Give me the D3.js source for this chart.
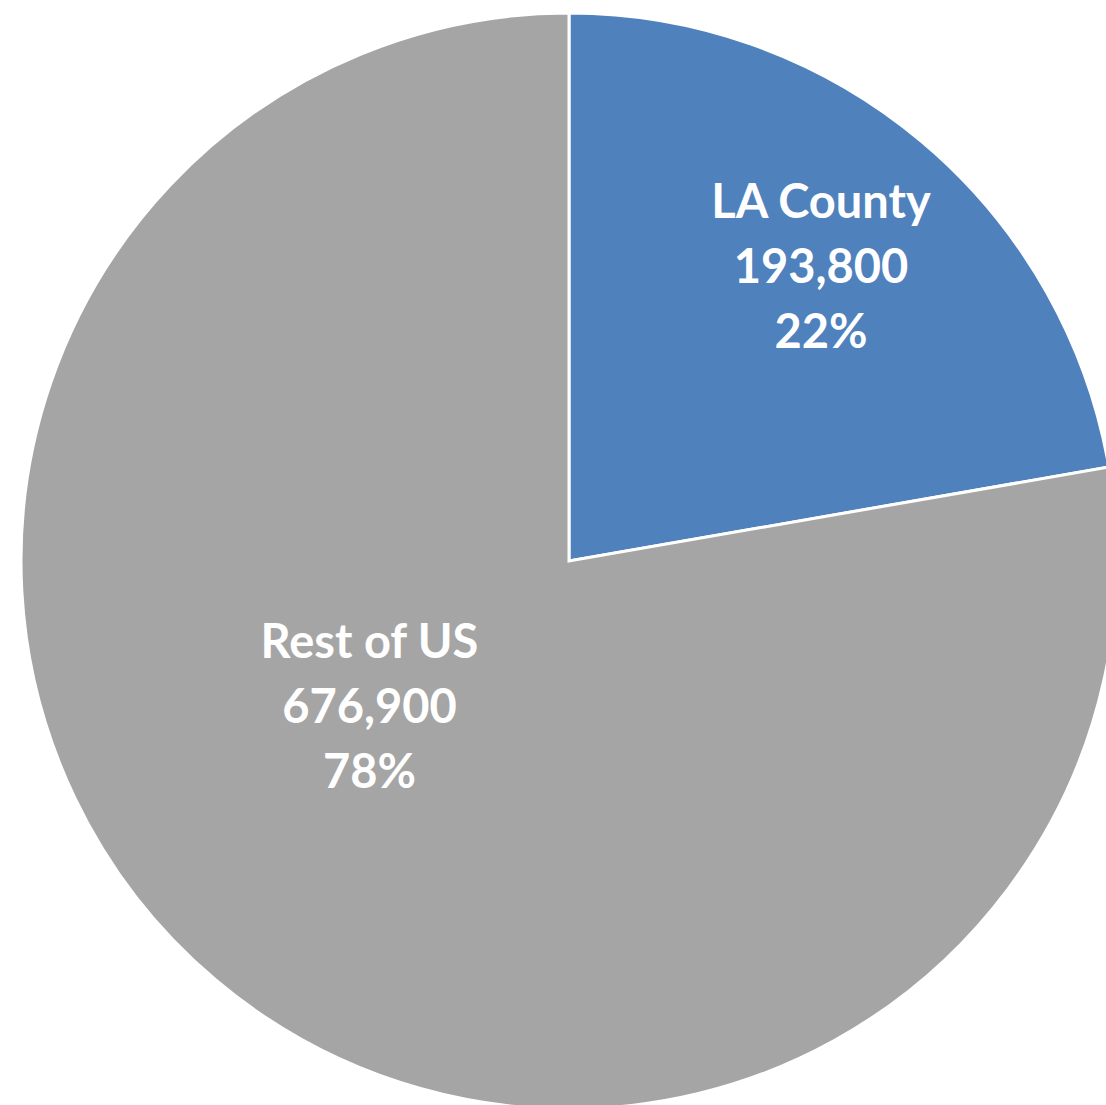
<!DOCTYPE html>
<html><head><meta charset="utf-8">
<script src="https://cdn.jsdelivr.net/npm/d3@7"></script>
<style>html,body{margin:0;padding:0;background:#fff;overflow:hidden}</style>
</head><body>
<svg id="c" width="1106" height="1105"></svg>
<script>
const categories = ["LA County", "Rest of US"];
const values = [193800, 676900];
const colors = ["#4F81BD", "#A5A5A5"];

const W = 1106, H = 1105;
const cx = 569, cy = 561, R = 548;
const svg = d3.select("#c");
const g = svg.append("g").attr("transform", `translate(${cx},${cy})`);

const pie = d3.pie().sort(null).value(d => d.value);
const data = pie(categories.map((c, i) => ({name: c, value: values[i], color: colors[i]})));
const total = d3.sum(values);
const arc = d3.arc().innerRadius(0).outerRadius(R);

g.selectAll("path.slice").data(data).enter().append("path")
  .attr("class", "slice")
  .attr("d", arc)
  .attr("fill", d => d.data.color)
  .attr("stroke", "#fff")
  .attr("stroke-width", 3)
  .attr("stroke-linejoin", "miter");

// label placement: angle (deg from top, clockwise) and radius fraction per slice
const labelPos = [{a: 40.5, f: 0.708}, {a: 234, f: 0.45}];
const fmt = d3.format(",");
const lineH = 65;
data.forEach((d, i) => {
  const p = labelPos[i];
  const a = p.a * Math.PI / 180;
  const x = Math.sin(a) * R * p.f, y = -Math.cos(a) * R * p.f;
  const lines = [d.data.name, fmt(d.data.value), Math.round(d.data.value / total * 100) + "%"];
  const t = g.append("text")
    .attr("x", x).attr("y", y)
    .attr("text-anchor", "middle")
    .attr("font-family", "Lato, 'Open Sans', sans-serif")
    .attr("font-weight", "bold")
    .attr("font-size", 47)
    .attr("fill", "#fff");
  lines.forEach((s, k) => {
    t.append("tspan").attr("x", x).attr("y", y + (k - 1) * lineH + 17).text(s);
  });
});
</script>
</body></html>
